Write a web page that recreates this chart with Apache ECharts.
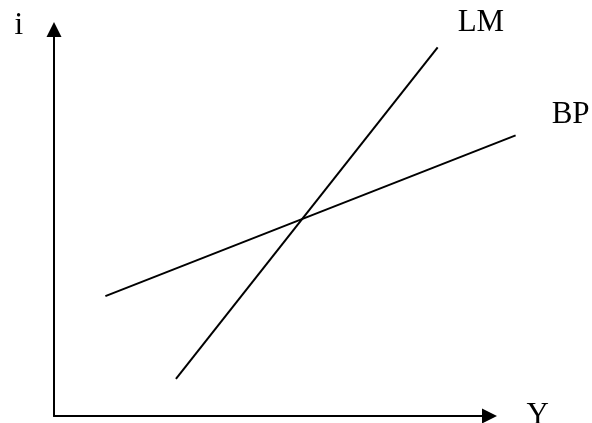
<!DOCTYPE html>
<html>
<head>
<meta charset="utf-8">
<script src="https://cdn.jsdelivr.net/npm/echarts@6/dist/echarts.min.js"></script>
<style>
  html, body { margin: 0; padding: 0; background: #fff; }
  #chart { width: 592px; height: 423px; }
</style>
</head>
<body>
<div id="chart"></div>
<script>
// 曲线端点（抽象单位，横轴 0-100，纵轴 0-100）
const lmPoints = [[28, 9.6], [88.1, 95.4]];
const bpPoints = [[11.8, 31], [106, 72.6]];
const seriesNames = ['LM', 'BP'];
const axisNames = { x: 'Y', y: 'i' };

const font = 'Liberation Serif';

// 坐标轴所在的网格
const gridLeft = 54;
const gridRight = 102.5;
const gridTop = 29.5;
const gridBottom = 7;
const axisWidth = 592 - gridLeft - gridRight;
// BP 线超出横轴箭头，用一个更宽的隐藏网格来画曲线（比例相同）
const lineXMax = 110;
const lineGridRight = 592 - gridLeft - axisWidth * lineXMax / 100;

const chart = echarts.init(document.getElementById('chart'));

const axisBase = {
  type: 'value',
  min: 0,
  max: 100,
  splitLine: { show: false },
  axisTick: { show: false },
  axisLabel: { show: false },
  axisLine: {
    show: true,
    onZero: false,
    symbol: ['none', 'triangle'],
    symbolSize: [15, 15],
    lineStyle: { color: '#000', width: 2 }
  }
};

const hiddenAxis = { type: 'value', show: false, min: 0, gridIndex: 1 };

const lineSeries = (name, points, offset) => ({
  name: name,
  type: 'line',
  xAxisIndex: 1,
  yAxisIndex: 1,
  data: points,
  symbol: 'none',
  clip: false,
  lineStyle: { color: '#000', width: 2 },
  endLabel: {
    show: true,
    formatter: '{a}',
    offset: offset,
    fontFamily: font,
    fontSize: 31,
    color: '#000'
  }
});

const option = {
  animation: false,
  grid: [
    { left: gridLeft, right: gridRight, top: gridTop, bottom: gridBottom, outerBoundsMode: 'none', containLabel: false },
    { left: gridLeft, right: lineGridRight, top: gridTop, bottom: gridBottom, outerBoundsMode: 'none', containLabel: false }
  ],
  xAxis: [
    Object.assign({}, axisBase, {
      name: axisNames.x,
      nameLocation: 'end',
      nameGap: 37,
      nameTextStyle: { fontFamily: font, fontSize: 31, color: '#000', padding: [0, 0, 22, 0] }
    }),
    Object.assign({}, hiddenAxis, { max: lineXMax })
  ],
  yAxis: [
    Object.assign({}, axisBase, {
      name: axisNames.y,
      nameLocation: 'end',
      nameGap: 4,
      nameTextStyle: { fontFamily: font, fontSize: 31, color: '#000', align: 'right', verticalAlign: 'middle', padding: [0, 31, 0, 0] }
    }),
    Object.assign({}, hiddenAxis, { max: 100 })
  ],
  series: [
    lineSeries(seriesNames[0], lmPoints, [12, -24]),
    lineSeries(seriesNames[1], bpPoints, [28, -21])
  ]
};

chart.setOption(option);
</script>
</body>
</html>
